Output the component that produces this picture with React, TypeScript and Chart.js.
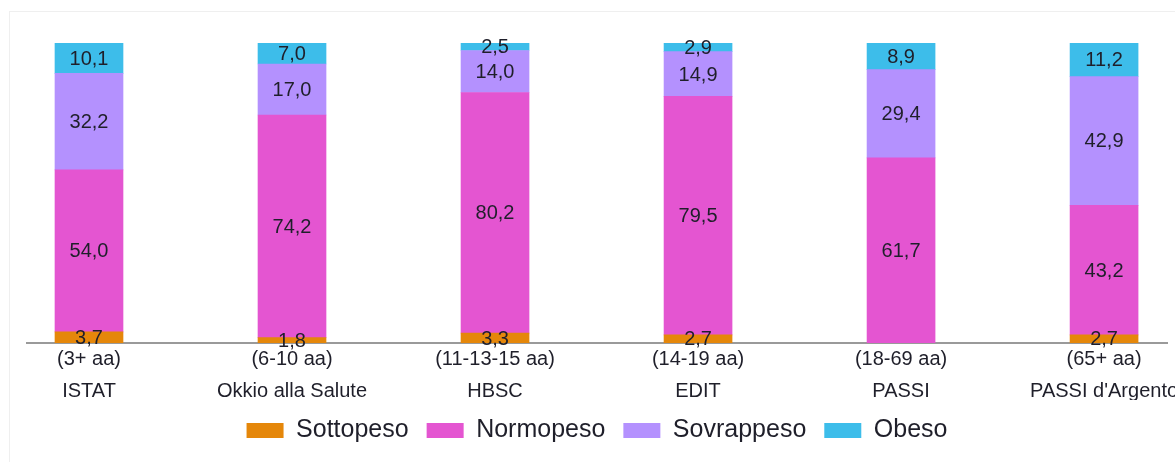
import React, { useEffect, useRef } from "react";
import { Chart, registerables } from "chart.js";

Chart.register(...registerables);

const categories: string[][] = [
  ["(3+ aa)", "ISTAT"],
  ["(6-10 aa)", "Okkio alla Salute"],
  ["(11-13-15 aa)", "HBSC"],
  ["(14-19 aa)", "EDIT"],
  ["(18-69 aa)", "PASSI"],
  ["(65+ aa)", "PASSI d'Argento"],
];

const sottopeso: (number | null)[] = [3.7, 1.8, 3.3, 2.7, null, 2.7];
const normopeso: number[] = [54.0, 74.2, 80.2, 79.5, 61.7, 43.2];
const sovrappeso: number[] = [32.2, 17.0, 14.0, 14.9, 29.4, 42.9];
const obeso: number[] = [10.1, 7.0, 2.5, 2.9, 8.9, 11.2];

const seriesNames = ["Sottopeso", "Normopeso", "Sovrappeso", "Obeso"];
const seriesColors = ["#E5870A", "#E455D1", "#B491FE", "#3DBDEA"];
const seriesValues = [sottopeso, normopeso, sovrappeso, obeso];

const FONT = "'Liberation Sans', Arial, sans-serif";

const valueLabels = {
  id: "valueLabels",
  afterDatasetsDraw(chart: any) {
    const ctx = chart.ctx;
    ctx.save();
    ctx.font = `20px ${FONT}`;
    ctx.fillStyle = "#1f1f2a";
    ctx.textAlign = "center";
    ctx.textBaseline = "middle";
    chart.data.datasets.forEach((ds: any, i: number) => {
      const meta = chart.getDatasetMeta(i);
      if (meta.hidden) return;
      meta.data.forEach((bar: any, j: number) => {
        const v = seriesValues[i][j];
        if (v == null || v === 0) return;
        const { x, y, base } = bar.getProps(["x", "y", "base"], true);
        ctx.fillText(v.toFixed(1).replace(".", ","), x, (y + base) / 2 + 1);
      });
    });
    ctx.restore();
  },
};

export default function App() {
  const ref = useRef<HTMLCanvasElement | null>(null);

  useEffect(() => {
    if (!ref.current) return;
    const datasets = seriesNames.map((name, i) => ({
      label: name,
      data: seriesValues[i].map((v, j) => ({ x: j, y: v })),
      backgroundColor: seriesColors[i],
      borderWidth: 0,
      barThickness: 68,
    }));
    const chart = new Chart(ref.current, {
      type: "bar",
      data: { datasets },
      options: {
        animation: false,
        responsive: false,
        maintainAspectRatio: false,
        layout: { padding: { top: 43, left: 27, right: 8, bottom: 9 } },
        plugins: {
          legend: {
            position: "bottom",
            labels: {
              boxWidth: 37,
              boxHeight: 15,
              padding: 18,
              color: "#1f1f2a",
              font: { family: FONT, size: 25 },
            },
          },
          tooltip: { enabled: false },
        },
        scales: {
          x: {
            type: "linear",
            stacked: true,
            offset: false,
            min: -0.3054,
            max: 5.31,
            grid: { display: false, drawTicks: false },
            border: { display: true, color: "#9a9a9a", width: 2 },
            afterFit: (scale: any) => {
              scale.height = 57;
              scale.paddingLeft = 0;
              scale.paddingRight = 0;
            },
            ticks: {
              stepSize: 1,
              includeBounds: false,
              autoSkip: false,
              maxRotation: 0,
              padding: 0,
              color: "#1f1f2a",
              font: { family: FONT, size: 20, lineHeight: 32 / 20 },
              callback: (value: any) => {
                const v = Number(value);
                if (Number.isInteger(v) && v >= 0 && v < categories.length) return categories[v];
                return "";
              },
            },
          },
          y: {
            stacked: true,
            display: false,
            min: 0,
            max: 100,
          },
        },
      },
      plugins: [valueLabels],
    } as any);
    return () => chart.destroy();
  }, []);

  return (
    <div style={{ position: "fixed", left: 0, top: 0, width: 1175, height: 462, overflow: "hidden", background: "#fff" }}>
      <div
        style={{
          position: "absolute",
          left: 9,
          top: 11,
          width: 1400,
          height: 700,
          border: "1px solid #efefef",
        }}
      />
      <canvas ref={ref} width={1175} height={462} style={{ position: "absolute", left: 0, top: 0 }} />
    </div>
  );
}
